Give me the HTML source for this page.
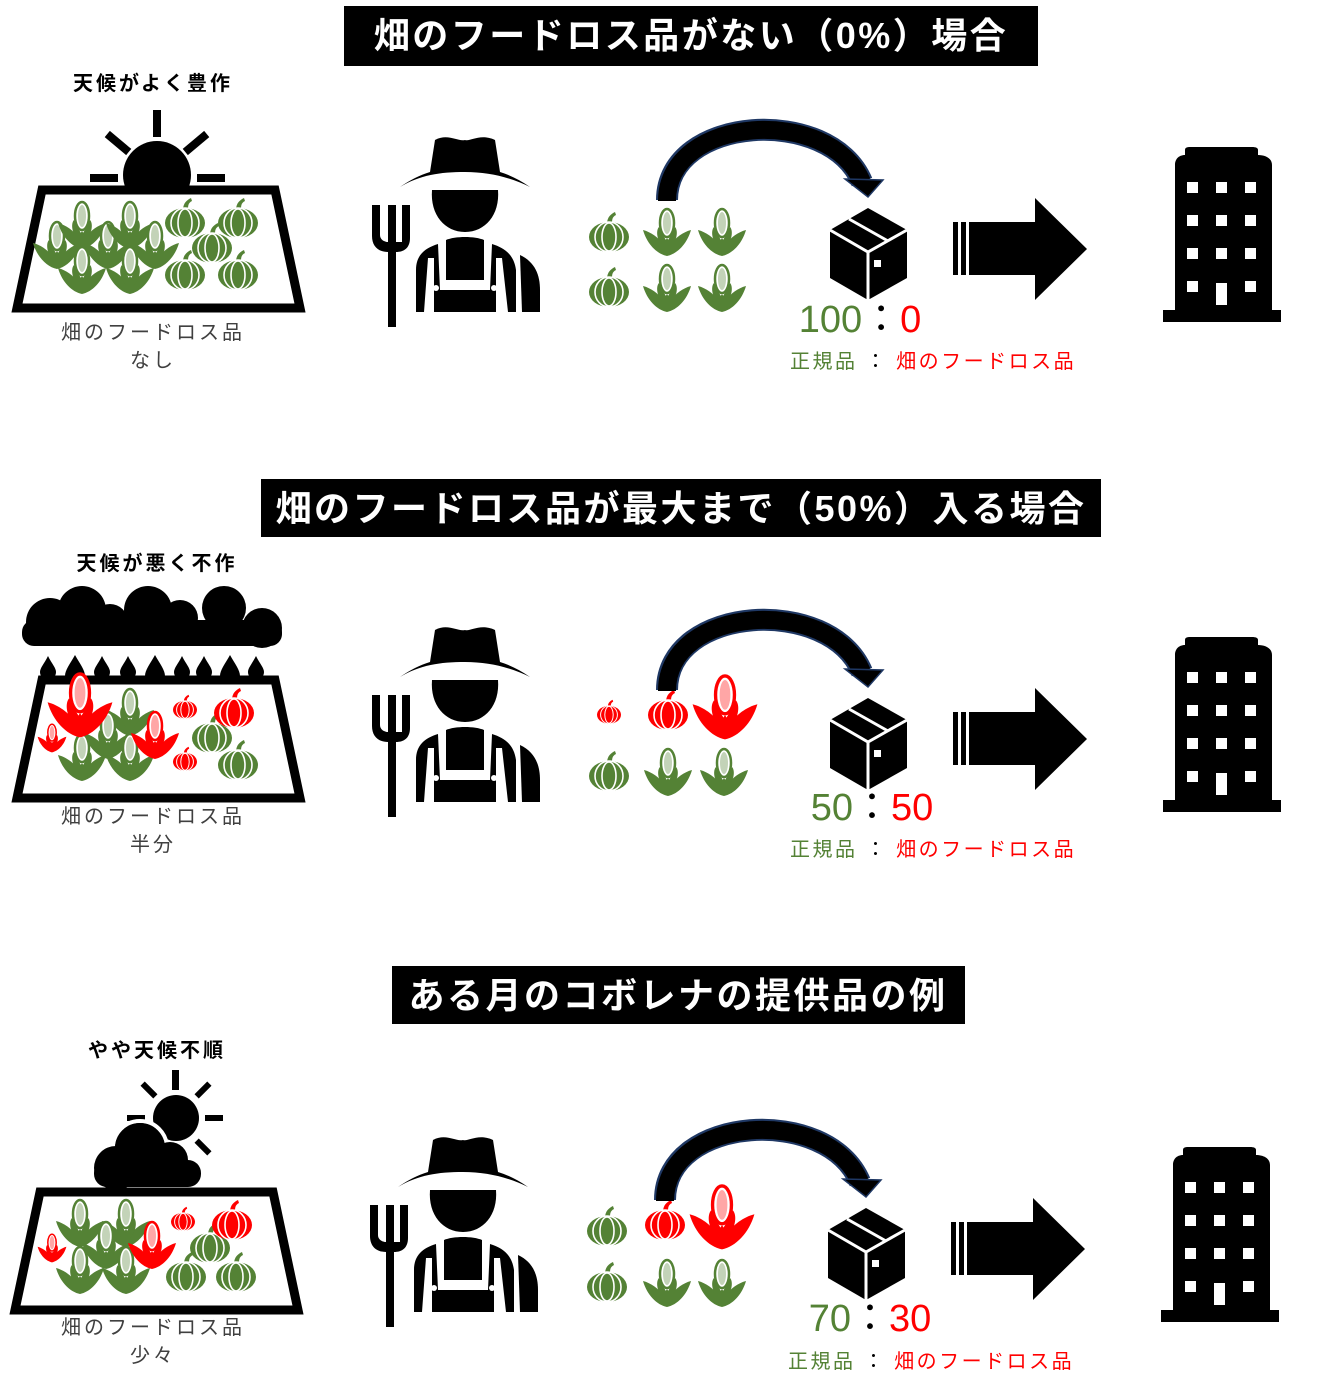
<!DOCTYPE html>
<html><head><meta charset="utf-8"><style>
html,body{margin:0;padding:0;background:#fff}
svg{display:block}
text{font-family:"Liberation Sans","Noto Sans CJK JP",sans-serif}
</style></head><body>
<svg width="1322" height="1396" viewBox="0 0 1322 1396" xmlns="http://www.w3.org/2000/svg">
<defs>
<g id="corn">
 <ellipse cx="0" cy="-9" rx="7" ry="14" fill="#fff" stroke="currentColor" stroke-width="2.5"/>
 <ellipse cx="0" cy="-9" rx="4" ry="11" fill="currentColor" opacity="0.35"/>
 <path fill="currentColor" d="M0,24 C-10,22 -20,12 -24,-2 C-16,0 -8,6 -4,12 L0,6 L4,12 C8,6 16,0 24,-2 C20,12 10,22 0,24Z"/>
 <path fill="currentColor" d="M-3,16 C-11,8 -11,-2 -8,-5 C-5,2 -2,6 0,10 C2,6 5,2 8,-5 C11,-2 11,8 3,16Z"/>
</g>
<g id="pump">
 <path fill="currentColor" d="M-2,-10 C-2,-17 2,-20 6,-22 L7,-19 C3,-17 3,-14 3,-10Z"/>
 <ellipse cx="0" cy="3" rx="20" ry="15" fill="currentColor"/>
 <ellipse cx="0" cy="3" rx="7" ry="14" fill="none" stroke="#fff" stroke-width="1.6"/>
 <ellipse cx="0" cy="3" rx="14" ry="15" fill="none" stroke="#fff" stroke-width="1.6"/>
</g>
<g id="farmer">
 <path d="M400,187 C420,175 440,172 465,172 C490,172 512,178 530,187 C520,180 510,175 500,172 L495,140 C480,133 470,142 465,140 C458,142 448,133 435,140 L430,172 C420,175 410,180 400,187Z"/>
 <path d="M432,190 L498,190 C500,215 485,232 465,232 C445,232 430,215 432,190Z"/>
 <path d="M416,312 L416,270 C416,255 425,248 438,244 L440,290 L490,290 L492,244 C505,248 514,255 516,270 L516,312 L508,312 L502,258 L496,258 L496,312 L434,312 L434,258 L428,258 L424,312Z"/>
 <path d="M446,240 C455,236 475,236 484,240 L484,280 L446,280Z"/>
 <path d="M520,255 C535,262 540,275 540,290 L540,312 L522,312Z"/>
 <circle cx="436" cy="288" r="3" fill="#fff"/><circle cx="494" cy="288" r="3" fill="#fff"/>
 <path d="M372,205 L380,205 L380,235 C380,240 385,242 388,242 L388,205 L396,205 L396,242 L402,242 L402,205 L410,205 L410,238 C410,248 404,252 396,252 L396,327 L388,327 L388,252 C378,252 372,246 372,236Z"/>
</g>
<g id="box">
 <polygon points="868,208 907,230 907,278 868,300 830,278 830,230"/>
 <polyline points="830,230 868,252 907,230" fill="none" stroke="#fff" stroke-width="3"/>
 <line x1="868" y1="252" x2="868" y2="300" stroke="#fff" stroke-width="3"/>
 <line x1="849" y1="219" x2="888" y2="241" stroke="#fff" stroke-width="3"/>
 <rect x="874" y="260" width="7" height="7" fill="#fff"/>
</g>
<g id="bigarrow">
 <rect x="953" y="222" width="5" height="53"/>
 <rect x="961" y="222" width="5" height="53"/>
 <polygon points="969,222 1035,222 1035,198 1087,249 1035,300 1035,275 969,275"/>
</g>
<g id="bldg">
 <path d="M1175,322 L1175,165 C1175,158 1180,155 1185,155 L1185,150 C1185,147 1188,147 1192,147 L1252,147 C1256,147 1258,148 1258,150 L1258,155 C1265,155 1272,158 1272,165 L1272,322Z"/>
 <rect x="1163" y="310" width="118" height="12"/>
 <g fill="#fff">
  <rect x="1187" y="182" width="11" height="11"/><rect x="1216" y="182" width="11" height="11"/><rect x="1245" y="182" width="11" height="11"/>
  <rect x="1187" y="215" width="11" height="11"/><rect x="1216" y="215" width="11" height="11"/><rect x="1245" y="215" width="11" height="11"/>
  <rect x="1187" y="248" width="11" height="11"/><rect x="1216" y="248" width="11" height="11"/><rect x="1245" y="248" width="11" height="11"/>
  <rect x="1187" y="281" width="11" height="11"/><rect x="1216" y="283" width="11" height="22"/><rect x="1245" y="281" width="11" height="11"/>
 </g>
</g>
<g id="curve">
 <path d="M667,200 C667,115 830,105 862,182" fill="none" stroke="#1f3864" stroke-width="22"/>
 <path d="M667,201 C667,115 830,105 862,182" fill="none" stroke="#000" stroke-width="18"/>
 <polygon points="845,179 883,180 868,197" fill="#000" stroke="#1f3864" stroke-width="1.5"/>
</g>
<g id="field">
 <polygon points="42,190 275,190 300,308 17,308" fill="#fff" stroke="#000" stroke-width="9"/>
</g>
</defs>

<!-- SECTION 1 -->
<rect x="344" y="6" width="694" height="60" fill="#000"/>
<text x="691" y="48" font-size="36" font-weight="bold" fill="#fff" text-anchor="middle" letter-spacing="2.5">畑のフードロス品がない（0%）場合</text>
<text x="153" y="90" font-size="20" font-weight="bold" text-anchor="middle" letter-spacing="3">天候がよく豊作</text>
<g>
 <circle cx="157" cy="175" r="34"/>
 <rect x="153" y="110" width="8" height="27"/>
 <rect x="90" y="174" width="28" height="8"/><rect x="197" y="174" width="28" height="8"/>
 <rect x="104" y="139" width="28" height="8" transform="rotate(40 118 143)"/>
 <rect x="182" y="139" width="28" height="8" transform="rotate(-40 196 143)"/>
</g>
<use href="#field"/>
<g color="#548235">
 <use href="#corn" x="57" y="245"/><use href="#corn" x="82" y="225"/><use href="#corn" x="108" y="245"/>
 <use href="#corn" x="130" y="225"/><use href="#corn" x="155" y="245"/><use href="#corn" x="82" y="270"/><use href="#corn" x="130" y="270"/>
 <use href="#pump" x="185" y="220"/><use href="#pump" x="238" y="220"/><use href="#pump" x="212" y="245"/>
 <use href="#pump" x="185" y="272"/><use href="#pump" x="238" y="272"/>
</g>
<text x="153" y="339" font-size="20" fill="#404040" text-anchor="middle" letter-spacing="3">畑のフードロス品</text>
<text x="153" y="367" font-size="20" fill="#404040" text-anchor="middle" letter-spacing="3">なし</text>
<use href="#farmer"/>
<g color="#548235">
 <use href="#pump" x="609" y="234"/><use href="#corn" x="667" y="232"/><use href="#corn" x="722" y="232"/>
 <use href="#pump" x="609" y="289"/><use href="#corn" x="667" y="288"/><use href="#corn" x="722" y="288"/>
</g>
<use href="#curve"/>
<use href="#box"/>
<text x="860" y="332" font-size="38" text-anchor="middle"><tspan fill="#548235">100</tspan><tspan fill="#000">：</tspan><tspan fill="#ff0000">0</tspan></text>
<text x="790" y="368" font-size="20" fill="#548235" letter-spacing="2.5">正規品<tspan fill="#000"> ： </tspan><tspan fill="#ff0000">畑のフードロス品</tspan></text>
<use href="#bigarrow"/>
<use href="#bldg"/>

<!-- SECTION 2 -->
<rect x="261" y="479" width="840" height="58" fill="#000"/>
<text x="681" y="521" font-size="36" font-weight="bold" fill="#fff" text-anchor="middle" letter-spacing="2.5">畑のフードロス品が最大まで（50%）入る場合</text>
<text x="157" y="570" font-size="20" font-weight="bold" text-anchor="middle" letter-spacing="3">天候が悪く不作</text>
<g>
 <circle cx="50" cy="622" r="24"/><circle cx="82" cy="610" r="24"/><circle cx="110" cy="622" r="18"/>
 <circle cx="148" cy="610" r="24"/><circle cx="180" cy="618" r="18"/><circle cx="224" cy="608" r="22"/><circle cx="262" cy="628" r="20"/>
 <rect x="22" y="620" width="260" height="26" rx="12"/>
 <g>
  <path d="M48,656 C52,664 56,668 56,672 A8,8 0 0 1 40,672 C40,668 44,664 48,656Z"/>
  <path d="M75,655 C80,664 85,670 85,676 A10,10 0 0 1 65,676 C65,670 70,664 75,655Z"/>
  <path d="M102,656 C106,664 110,668 110,672 A8,8 0 0 1 94,672 C94,668 98,664 102,656Z"/>
  <path d="M128,656 C132,664 136,668 136,672 A8,8 0 0 1 120,672 C120,668 124,664 128,656Z"/>
  <path d="M155,655 C160,664 165,670 165,676 A10,10 0 0 1 145,676 C145,670 150,664 155,655Z"/>
  <path d="M182,656 C186,664 190,668 190,672 A8,8 0 0 1 174,672 C174,668 178,664 182,656Z"/>
  <path d="M204,656 C208,664 212,668 212,672 A8,8 0 0 1 196,672 C196,668 200,664 204,656Z"/>
  <path d="M230,655 C235,664 240,670 240,676 A10,10 0 0 1 220,676 C220,670 225,664 230,655Z"/>
  <path d="M256,656 C260,664 264,668 264,672 A8,8 0 0 1 248,672 C248,668 252,664 256,656Z"/>
 </g>
</g>
<use href="#field" y="490"/>
<g color="#548235">
 <use href="#corn" x="130" y="712"/><use href="#corn" x="108" y="735"/>
 <use href="#corn" x="82" y="757"/><use href="#corn" x="130" y="757"/>
 <use href="#pump" x="212" y="735"/><use href="#pump" x="238" y="762"/>
</g>
<g color="#ff0000">
 <use href="#corn" transform="translate(80 705) scale(1.35)"/>
 <use href="#corn" transform="translate(52 738) scale(0.6)"/>
 <use href="#corn" x="155" y="735"/>
 <use href="#pump" transform="translate(185 708) scale(0.6)"/>
 <use href="#pump" transform="translate(185 760) scale(0.6)"/>
 <use href="#pump" x="234" y="710"/>
</g>
<text x="153" y="823" font-size="20" fill="#404040" text-anchor="middle" letter-spacing="3">畑のフードロス品</text>
<text x="153" y="851" font-size="20" fill="#404040" text-anchor="middle" letter-spacing="3">半分</text>
<use href="#farmer" y="490"/>
<g color="#ff0000">
 <use href="#pump" transform="translate(609 713) scale(0.6)"/>
 <use href="#pump" x="668" y="712"/>
 <use href="#corn" transform="translate(725 707) scale(1.35)"/>
</g>
<g color="#548235">
 <use href="#pump" x="609" y="773"/><use href="#corn" x="668" y="772"/><use href="#corn" x="724" y="772"/>
</g>
<use href="#curve" y="490"/>
<use href="#box" y="490"/>
<text x="872" y="820" font-size="38" text-anchor="middle"><tspan fill="#548235">50</tspan><tspan fill="#000">：</tspan><tspan fill="#ff0000">50</tspan></text>
<text x="790" y="856" font-size="20" fill="#548235" letter-spacing="2.5">正規品<tspan fill="#000"> ： </tspan><tspan fill="#ff0000">畑のフードロス品</tspan></text>
<use href="#bigarrow" y="490"/>
<use href="#bldg" y="490"/>

<!-- SECTION 3 -->
<rect x="392" y="966" width="573" height="58" fill="#000"/>
<text x="678" y="1008" font-size="36" font-weight="bold" fill="#fff" text-anchor="middle" letter-spacing="2.5">ある月のコボレナの提供品の例</text>
<text x="157" y="1057" font-size="20" font-weight="bold" text-anchor="middle" letter-spacing="3">やや天候不順</text>
<g>
 <circle cx="176" cy="1118" r="23"/>
 <rect x="172" y="1070" width="7" height="20"/>
 <rect x="127" y="1115" width="18" height="6"/><rect x="205" y="1115" width="18" height="6"/>
 <rect x="140" y="1087" width="18" height="6" transform="rotate(45 149 1090)"/>
 <rect x="194" y="1087" width="18" height="6" transform="rotate(-45 203 1090)"/>
 <rect x="194" y="1144" width="18" height="6" transform="rotate(45 203 1147)"/>
 <circle cx="140" cy="1148" r="27" stroke="#fff" stroke-width="4"/>
 <circle cx="170" cy="1160" r="18"/>
 <circle cx="116" cy="1168" r="22"/>
 <circle cx="140" cy="1148" r="25"/>
 <rect x="94" y="1160" width="107" height="27" rx="13"/>
</g>
<use href="#field" x="-2" y="1002"/>
<g color="#548235">
 <use href="#corn" x="80" y="1223"/><use href="#corn" x="126" y="1223"/><use href="#corn" x="106" y="1245"/>
 <use href="#corn" x="80" y="1270"/><use href="#corn" x="126" y="1270"/>
 <use href="#pump" x="210" y="1245"/><use href="#pump" x="186" y="1274"/><use href="#pump" x="236" y="1274"/>
</g>
<g color="#ff0000">
 <use href="#corn" transform="translate(52 1248) scale(0.6)"/>
 <use href="#corn" x="152" y="1245"/>
 <use href="#pump" transform="translate(183 1220) scale(0.6)"/>
 <use href="#pump" x="232" y="1222"/>
</g>
<text x="153" y="1334" font-size="20" fill="#404040" text-anchor="middle" letter-spacing="3">畑のフードロス品</text>
<text x="153" y="1362" font-size="20" fill="#404040" text-anchor="middle" letter-spacing="3">少々</text>
<use href="#farmer" x="-2" y="1000"/>
<g color="#548235">
 <use href="#pump" x="607" y="1228"/>
 <use href="#pump" x="607" y="1284"/><use href="#corn" x="667" y="1283"/><use href="#corn" x="722" y="1283"/>
</g>
<g color="#ff0000">
 <use href="#pump" x="665" y="1222"/>
 <use href="#corn" transform="translate(722 1217) scale(1.35)"/>
</g>
<use href="#curve" x="-2" y="1000"/>
<use href="#box" x="-2" y="1000"/>
<text x="870" y="1331" font-size="38" text-anchor="middle"><tspan fill="#548235">70</tspan><tspan fill="#000">：</tspan><tspan fill="#ff0000">30</tspan></text>
<text x="788" y="1368" font-size="20" fill="#548235" letter-spacing="2.5">正規品<tspan fill="#000"> ： </tspan><tspan fill="#ff0000">畑のフードロス品</tspan></text>
<use href="#bigarrow" x="-2" y="1000"/>
<use href="#bldg" x="-2" y="1000"/>
</svg>
</body></html>
